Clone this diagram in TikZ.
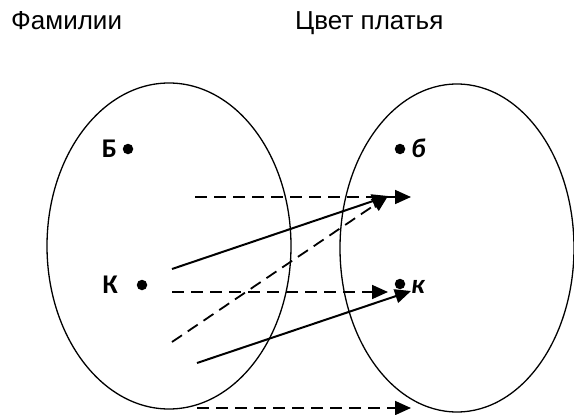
\documentclass[tikz,border=0pt]{standalone}
\usepackage{fontspec}
\setmainfont{Liberation Sans}
\newfontfamily\lblfont{Carlito}
\usetikzlibrary{arrows.meta}
\begin{document}
\begin{tikzpicture}[x=1pt,y=-1pt,
  setshape/.style={draw,line width=1.3pt},
  dotmark/.style={circle,fill,inner sep=0pt,minimum size=10.5pt},
  title/.style={font=\fontsize{26}{28}\selectfont,inner sep=0pt,anchor=base west},
  elem/.style={font=\lblfont\bfseries\fontsize{27}{30}\selectfont,inner sep=0pt},
  elemit/.style={font=\lblfont\bfseries\itshape\fontsize{27}{30}\selectfont,inner sep=0pt},
  solidarrow/.style={line width=2pt,-{Triangle[length=16pt,width=14pt]}},
  dasharrow/.style={line width=1.8pt,dash pattern=on 12pt off 7pt,-{Triangle[length=16pt,width=14pt]}}]
\useasboundingbox (0,0) rectangle (574,415);
% titles
\node[title] (t1) at (11,29) {Фамилии};
\node[title] (t2) at (295,29) {Цвет платья};
% sets
\draw[setshape] (169,246) ellipse [x radius=122, y radius=163];
\draw[setshape] (457,248) ellipse [x radius=117, y radius=164];
% elements
\node[dotmark] (dB) at (128,149) {};
\node[elem,anchor=base east] (lB) at (117,157) {Б};
\node[dotmark] (dK) at (142,285) {};
\node[elem,anchor=base east] (lK) at (118,293) {К};
\node[dotmark] (db) at (400,149) {};
\node[elemit,anchor=base west] (lb) at (411,157) {б};
\node[dotmark] (dk) at (400,284) {};
\node[elemit,anchor=base west] (lk) at (411,293) {к};
% arrow ends
\coordinate (a1s) at (195,197); \coordinate (a1e) at (411,197);
\coordinate (a2s) at (172,269); \coordinate (a2e) at (388,196);
\coordinate (a3s) at (172,342); \coordinate (a3e) at (388,196);
\coordinate (a4s) at (172,292); \coordinate (a4e) at (388,292);
\coordinate (a5s) at (197,363); \coordinate (a5e) at (411,291);
\coordinate (a6s) at (197,408); \coordinate (a6e) at (411,408);
\draw[dasharrow] (a1s) -- (a1e);
\draw[solidarrow] (a2s) -- (a2e);
\draw[dasharrow] (a3s) -- (a3e);
\draw[dasharrow] (a4s) -- (a4e);
\draw[solidarrow] (a5s) -- (a5e);
\draw[dasharrow] (a6s) -- (a6e);
\end{tikzpicture}
\end{document}
